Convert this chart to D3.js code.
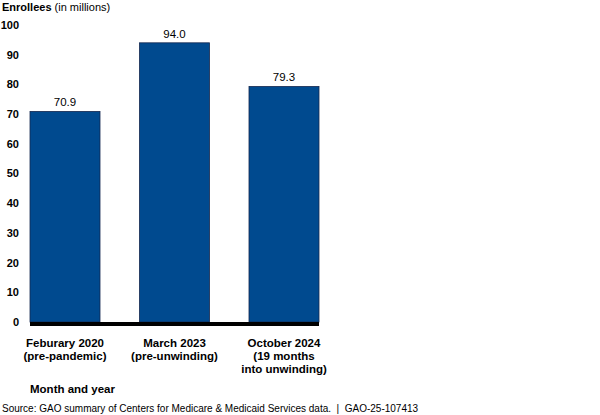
<!DOCTYPE html>
<html>
<head>
<meta charset="utf-8">
<script src="https://cdn.jsdelivr.net/npm/d3@7"></script>
<style>
  body { margin: 0; background: #fff; }
  text { font-family: "Liberation Sans", Arial, sans-serif; fill: #000; }
</style>
</head>
<body>
<div class="chart"></div>
<script>
const width = 600,
      height = 415;

// data
const categories = ["Feburary 2020", "March 2023", "October 2024"];
const subLabels = [["(pre-pandemic)"], ["(pre-unwinding)"], ["(19 months", "into unwinding)"]];
const enrollees = [70.9, 94.0, 79.3];
const yTicks = [0, 10, 20, 30, 40, 50, 60, 70, 80, 90, 100];

const plotLeft = 30, plotRight = 319, plotTop = 25, plotBottom = 322;

const svg = d3.select(".chart").append("svg")
  .attr("width", width)
  .attr("height", height);

const x = d3.scaleBand()
  .domain(categories)
  .range([plotLeft, plotRight])
  .paddingInner(0.3607)
  .paddingOuter(0);

const y = d3.scaleLinear()
  .domain([0, 100])
  .range([plotBottom, plotTop]);

// y tick labels (no axis line)
svg.selectAll("text.tick")
  .data(yTicks)
  .enter()
  .append("text")
    .attr("class", "tick")
    .attr("x", 19)
    .attr("y", d => y(d))
    .attr("dy", "0.36em")
    .attr("text-anchor", "end")
    .style("font-size", "11px")
    .style("font-weight", "bold")
    .text(d => d);

// bars
svg.selectAll("rect.bar")
  .data(enrollees)
  .enter()
  .append("rect")
    .attr("class", "bar")
    .attr("x", (d, i) => x(categories[i]))
    .attr("y", d => y(d))
    .attr("width", x.bandwidth())
    .attr("height", d => y(0) - y(d))
    .style("fill", "#004a8f")
    .style("stroke", "#14284f")
    .style("stroke-width", 0.8);

// value labels
svg.selectAll("text.value")
  .data(enrollees)
  .enter()
  .append("text")
    .attr("class", "value")
    .attr("x", (d, i) => x(categories[i]) + x.bandwidth() / 2)
    .attr("y", d => y(d) - 5)
    .attr("text-anchor", "middle")
    .style("font-size", "11.5px")
    .text(d => d.toFixed(1));

// baseline
svg.append("line")
  .attr("x1", plotLeft)
  .attr("x2", plotRight)
  .attr("y1", y(0) + 2)
  .attr("y2", y(0) + 2)
  .style("stroke", "#000")
  .style("stroke-width", 4);

// category labels
const cat = svg.selectAll("text.cat")
  .data(categories)
  .enter()
  .append("text")
    .attr("class", "cat")
    .attr("text-anchor", "middle")
    .style("font-size", "11.5px")
    .style("font-weight", "bold");

cat.each(function(d, i) {
  const lines = [d].concat(subLabels[i]);
  const cx = x(d) + x.bandwidth() / 2;
  d3.select(this).selectAll("tspan")
    .data(lines)
    .enter()
    .append("tspan")
      .attr("x", cx)
      .attr("y", (l, j) => 347 + j * 13)
      .text(l => l);
});

// titles
const yTitle = svg.append("text")
  .attr("x", 2)
  .attr("y", 11)
  .style("font-size", "11px");
yTitle.append("tspan").style("font-weight", "bold").text("Enrollees");
yTitle.append("tspan").text(" (in millions)");

svg.append("text")
  .attr("x", 30)
  .attr("y", 393)
  .style("font-size", "11.5px")
  .style("font-weight", "bold")
  .text("Month and year");

svg.append("text")
  .attr("x", 2)
  .attr("y", 411.5)
  .attr("xml:space", "preserve")
  .style("font-size", "10px")
  .text("Source: GAO summary of Centers for Medicare & Medicaid Services data.  |  GAO-25-107413");
</script>
</body>
</html>
